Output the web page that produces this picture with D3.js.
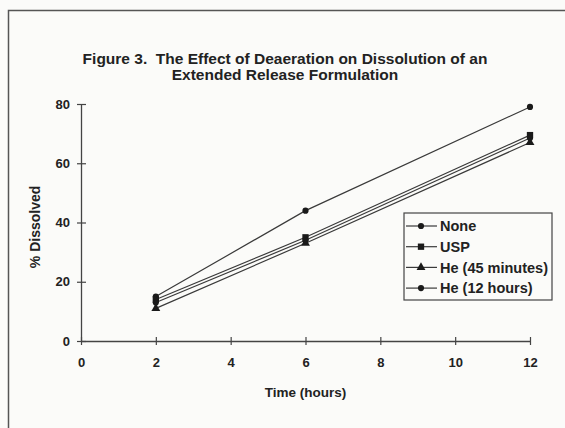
<!DOCTYPE html>
<html>
<head>
<meta charset="utf-8">
<script src="https://cdn.jsdelivr.net/npm/d3@7"></script>
<style>
  body { margin: 0; background: #fbfbf9; }
  text { font-family: "Liberation Sans", Arial, sans-serif; font-weight: bold; fill: #222; }
</style>
</head>
<body>
<div id="chart"></div>
<script>
// data
const hours = [2, 6, 12];
const seriesNames = ["None", "USP", "He (45 minutes)", "He (12 hours)"];
const noneValues = [15, 44, 79];
const uspValues = [14, 35, 69.5];
const he45Values = [11, 33, 67];
const he12Values = [13, 34, 68.5];
const xTicks = [0, 2, 4, 6, 8, 10, 12];
const yTicks = [0, 20, 40, 60, 80];
const titleLines = ["Figure 3.  The Effect of Deaeration on Dissolution of an", "Extended Release Formulation"];

const W = 565, H = 428;
const margin = { top: 104, right: 35, bottom: 87, left: 81 };
const width = W - margin.left - margin.right;
const height = H - margin.top - margin.bottom;

const svg = d3.select("#chart").append("svg")
    .attr("width", W)
    .attr("height", H);

// frame
svg.append("rect")
    .attr("x", 8.5).attr("y", 10.5)
    .attr("width", W + 10).attr("height", H + 10)
    .attr("fill", "none")
    .attr("stroke", "#555")
    .attr("stroke-width", 1.5);

// title (two spaces after "Figure 3." kept)
svg.append("text")
    .attr("x", 285).attr("y", 64)
    .attr("text-anchor", "middle")
    .style("font-size", "15.5px")
    .style("white-space", "pre")
    .selectAll("tspan")
    .data(titleLines)
    .enter().append("tspan")
    .attr("x", 285)
    .attr("dy", (d, i) => i === 0 ? 0 : 16)
    .text(d => d);

const g = svg.append("g")
    .attr("transform", `translate(${margin.left},${margin.top})`);

const x = d3.scaleLinear().domain([0, 12]).range([0, width]);
const y = d3.scaleLinear().domain([0, 80]).range([height, 0]);

// axes with crossing ticks
const xAxis = g.append("g")
    .attr("transform", `translate(0,${height})`)
    .call(d3.axisBottom(x).tickValues(xTicks).tickSize(0).tickPadding(17));
xAxis.select(".domain").attr("stroke", "#444").attr("stroke-width", 1.3);
xAxis.selectAll(".tick").append("line")
    .attr("y1", -4).attr("y2", 4)
    .attr("stroke", "#444").attr("stroke-width", 1.2);
xAxis.selectAll(".tick text").style("font-size", "13px");

const yAxis = g.append("g")
    .call(d3.axisLeft(y).tickValues(yTicks).tickSize(0).tickPadding(11));
yAxis.select(".domain").attr("stroke", "#444").attr("stroke-width", 1.3);
yAxis.selectAll(".tick").append("line")
    .attr("x1", -4).attr("x2", 5)
    .attr("stroke", "#444").attr("stroke-width", 1.2);
yAxis.selectAll(".tick text").style("font-size", "13px");

// axis titles
g.append("text")
    .attr("x", x(6))
    .attr("y", height + 56)
    .attr("text-anchor", "middle")
    .style("font-size", "13.5px")
    .text("Time (hours)");

g.append("text")
    .attr("transform", `translate(${-41},${y(38.5)}) rotate(-90)`)
    .attr("text-anchor", "middle")
    .style("font-size", "14px")
    .text("% Dissolved");

// series
const series = [
    { name: seriesNames[0], values: noneValues, symbol: d3.symbolCircle, size: 30 },
    { name: seriesNames[1], values: uspValues, symbol: d3.symbolSquare, size: 40 },
    { name: seriesNames[2], values: he45Values, symbol: d3.symbolTriangle, size: 34 },
    { name: seriesNames[3], values: he12Values, symbol: d3.symbolCircle, size: 30 }
];

const line = d3.line()
    .x((d, i) => x(hours[i]))
    .y(d => y(d));

series.forEach(s => {
    g.append("path")
        .attr("d", line(s.values))
        .attr("fill", "none")
        .attr("stroke", "#3a3a3a")
        .attr("stroke-width", 1.2);
});

series.forEach(s => {
    g.selectAll(null)
        .data(s.values)
        .enter().append("path")
        .attr("transform", (d, i) => `translate(${x(hours[i])},${y(d)})`)
        .attr("d", d3.symbol().type(s.symbol).size(s.size))
        .attr("fill", "#1a1a1a");
});

// legend
const legend = svg.append("g")
    .attr("transform", "translate(404,213)");
legend.append("rect")
    .attr("width", 148).attr("height", 87)
    .attr("fill", "#fbfbf9")
    .attr("stroke", "#444")
    .attr("stroke-width", 1.2);

const item = legend.selectAll(".item")
    .data(series)
    .enter().append("g")
    .attr("class", "item")
    .attr("transform", (d, i) => `translate(0,${13 + i * 20.7})`);

item.append("line")
    .attr("x1", 2).attr("x2", 33)
    .attr("stroke", "#3a3a3a").attr("stroke-width", 1.2);
item.append("path")
    .attr("transform", "translate(17,0)")
    .attr("d", d => d3.symbol().type(d.symbol).size(d.size)())
    .attr("fill", "#1a1a1a");
item.append("text")
    .attr("x", 36)
    .attr("dy", "0.36em")
    .style("font-size", "14.5px")
    .text(d => d.name);
</script>
</body>
</html>
